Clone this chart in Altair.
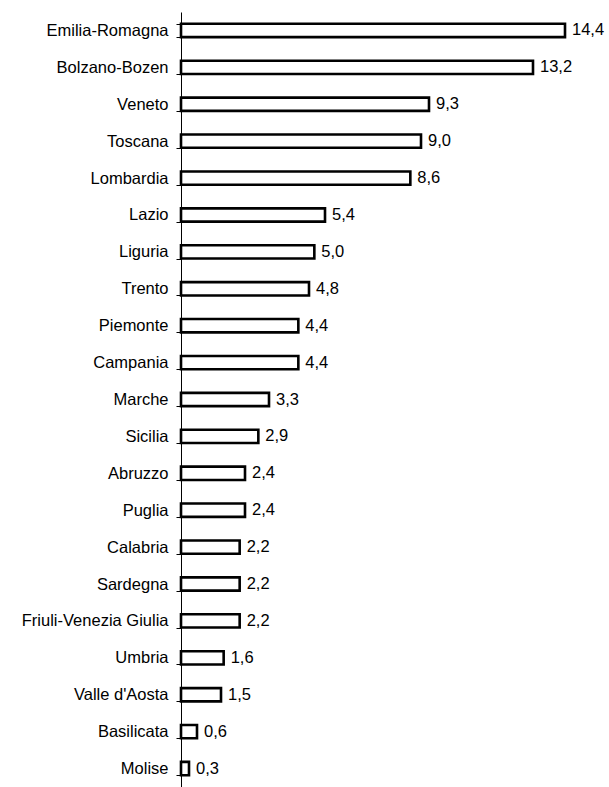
import altair as alt
import pandas as pd

# Regions, top to bottom, with their values
regions = [
    "Emilia-Romagna", "Bolzano-Bozen", "Veneto", "Toscana", "Lombardia",
    "Lazio", "Liguria", "Trento", "Piemonte", "Campania", "Marche",
    "Sicilia", "Abruzzo", "Puglia", "Calabria", "Sardegna",
    "Friuli-Venezia Giulia", "Umbria", "Valle d'Aosta", "Basilicata", "Molise",
]
values = [
    14.4, 13.2, 9.3, 9.0, 8.6,
    5.4, 5.0, 4.8, 4.4, 4.4, 3.3,
    2.9, 2.4, 2.4, 2.2, 2.2,
    2.2, 1.6, 1.5, 0.6, 0.3,
]

df = pd.DataFrame({"regione": regions, "valore": values})
# Italian decimal comma for the value labels
df["etichetta"] = [f"{v:.1f}".replace(".", ",") for v in values]

FONT = "Liberation Sans"
FSIZE = 16.5

y_enc = alt.Y(
    "regione:N",
    sort=regions,
    title=None,
    scale=alt.Scale(paddingInner=0.64, paddingOuter=0.32),
    axis=alt.Axis(
        domainColor="black",
        domainWidth=1,
        tickColor="black",
        tickWidth=1,
        tickSize=5,
        tickBand="extent",
        labelFont=FONT,
        labelFontSize=FSIZE,
        labelColor="black",
        labelPadding=8,
        grid=False,
    ),
)
x_enc = alt.X(
    "valore:Q",
    title=None,
    scale=alt.Scale(domain=[0, 15], nice=False),
    axis=None,
)

bars = alt.Chart(df).mark_bar(
    fill="white", stroke="black", strokeWidth=2.6
).encode(y=y_enc, x=x_enc)

labels = alt.Chart(df).mark_text(
    align="left", baseline="middle", dx=7, font=FONT, fontSize=FSIZE, color="black"
).encode(y=alt.Y("regione:N", sort=regions), x="valore:Q", text="etichetta:N")

chart = (
    alt.layer(bars, labels)
    .properties(
        width=400,
        height=775,
        autosize=alt.AutoSizeParams(type="none"),
        padding={"left": 181, "top": 12, "right": 28, "bottom": 0},
        background="white",
    )
    .configure_view(stroke=None)
)

chart.save("out.html", embed_options={"renderer": "svg", "actions": False})
